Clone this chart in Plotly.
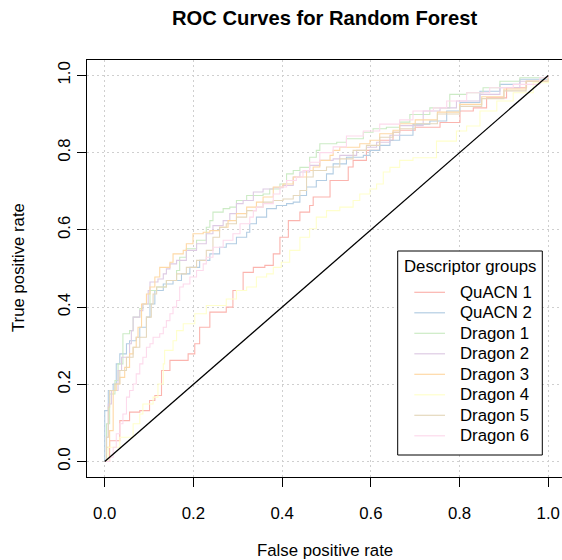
import plotly.graph_objects as go

# ---- data ----
quacn1_fpr = [0, .011, .034, .056, .079, .101, .113, .128, .147, .188, .203, .214, .237, .274, .289, .312, .335, .361, .380, .395, .414, .440, .462, .470, .508, .549, .560, .590, .620, .650, .665, .700, .756, .801, .831, .861, .906, .951, 1]
quacn1_tpr = [0, .054, .106, .128, .132, .158, .171, .236, .262, .279, .305, .348, .387, .400, .443, .490, .503, .508, .538, .581, .624, .646, .663, .685, .728, .763, .780, .806, .832, .853, .858, .866, .878, .908, .916, .942, .968, .985, 1]

quacn2_fpr = [0, 0, .008, .019, .026, .034, .049, .056, .071, .079, .094, .102, .113, .132, .154, .173, .192, .214, .237, .259, .274, .297, .320, .327, .342, .365, .387, .410, .425, .440, .455, .477, .500, .515, .545, .583, .598, .620, .643, .665, .695, .733, .771, .801, .846, .891, .936, 1]
quacn2_tpr = [0, .132, .184, .201, .253, .279, .305, .313, .322, .348, .374, .408, .443, .460, .469, .486, .503, .521, .538, .555, .564, .581, .594, .616, .633, .655, .663, .668, .672, .689, .711, .728, .745, .771, .788, .793, .806, .819, .832, .845, .874, .882, .908, .930, .959, .977, .990, 1]

dragon1_fpr = [0, .004, .011, .023, .030, .041, .041, .056, .064, .079, .086, .102, .117, .139, .162, .169, .184, .207, .229, .237, .244, .267, .282, .297, .320, .357, .372, .395, .410, .425, .440, .462, .477, .485, .523, .545, .583, .605, .635, .665, .688, .733, .778, .816, .853, .891, .936, 1]
dragon1_tpr = [0, .098, .175, .210, .253, .296, .331, .339, .374, .396, .408, .443, .452, .469, .495, .529, .551, .573, .607, .624, .646, .655, .659, .676, .689, .693, .706, .719, .745, .754, .762, .788, .806, .823, .827, .836, .853, .862, .866, .879, .899, .916, .951, .955, .968, .985, .994, 1]

dragon2_fpr = [0, .004, .008, .015, .030, .038, .056, .060, .064, .079, .086, .098, .102, .120, .132, .139, .147, .162, .184, .207, .229, .244, .267, .282, .297, .312, .335, .357, .380, .402, .425, .440, .462, .485, .515, .530, .568, .590, .613, .643, .665, .718, .756, .793, .846, .891, .936, 1]
dragon2_tpr = [0, .063, .149, .184, .236, .270, .305, .339, .374, .391, .408, .443, .465, .473, .486, .499, .512, .521, .547, .564, .590, .611, .624, .642, .668, .676, .698, .706, .709, .715, .737, .750, .767, .780, .784, .793, .806, .814, .827, .845, .870, .908, .916, .934, .951, .968, .985, 1]

dragon3_fpr = [0, .004, .011, .019, .026, .034, .045, .056, .064, .071, .075, .083, .094, .102, .113, .124, .147, .154, .177, .184, .199, .222, .237, .259, .278, .297, .320, .342, .357, .380, .402, .425, .455, .470, .485, .508, .515, .530, .575, .598, .620, .650, .665, .70, .75, .80, .85, .90, .95, 1]
dragon3_tpr = [0, .037, .080, .184, .201, .218, .244, .279, .296, .322, .348, .408, .434, .452, .478, .503, .516, .538, .547, .564, .590, .594, .598, .607, .624, .642, .659, .672, .685, .711, .719, .737, .754, .763, .780, .793, .806, .814, .823, .832, .849, .858, .875, .885, .905, .925, .945, .965, .985, 1]

dragon4_fpr = [0, .008, .034, .064, .079, .086, .109, .120, .132, .135, .154, .162, .177, .192, .203, .229, .274, .297, .320, .342, .365, .380, .398, .417, .440, .462, .477, .500, .530, .560, .575, .598, .613, .628, .643, .665, .695, .748, .793, .816, .846, .884, .921, .966, 1]
dragon4_tpr = [0, .037, .063, .098, .123, .149, .167, .201, .253, .288, .313, .339, .357, .357, .383, .404, .421, .443, .452, .478, .486, .503, .516, .547, .581, .603, .633, .650, .659, .676, .693, .706, .719, .750, .762, .780, .787, .830, .856, .869, .908, .934, .955, .981, 1]

dragon5_fpr = [0, .004, .008, .011, .023, .034, .049, .064, .079, .094, .105, .109, .117, .139, .162, .184, .207, .229, .244, .259, .274, .297, .320, .342, .357, .380, .402, .425, .440, .455, .470, .500, .530, .560, .590, .620, .650, .665, .70, .75, .80, .85, .90, .95, 1]
dragon5_tpr = [0, .063, .141, .184, .201, .236, .270, .296, .322, .374, .408, .434, .452, .469, .486, .503, .521, .547, .581, .607, .616, .633, .650, .659, .672, .676, .680, .689, .702, .737, .754, .763, .784, .806, .819, .840, .853, .862, .875, .900, .920, .940, .960, .985, 1]

dragon6_fpr = [0, .011, .019, .026, .034, .041, .049, .056, .064, .071, .079, .086, .094, .102, .109, .124, .132, .139, .147, .154, .162, .169, .177, .192, .207, .222, .229, .244, .267, .289, .305, .327, .335, .342, .357, .380, .395, .410, .432, .447, .462, .485, .515, .545, .583, .620, .665, .695, .741, .771, .816, .868, .921, .981, 1]
dragon6_tpr = [0, .011, .037, .072, .098, .123, .167, .184, .201, .227, .253, .270, .296, .305, .322, .331, .348, .365, .383, .400, .417, .452, .460, .478, .495, .512, .529, .555, .573, .590, .616, .633, .650, .659, .668, .693, .711, .728, .737, .754, .775, .800, .815, .843, .856, .874, .885, .908, .916, .934, .955, .968, .977, .994, 1]

group_names = ["QuACN 1", "QuACN 2", "Dragon 1", "Dragon 2", "Dragon 3", "Dragon 4", "Dragon 5", "Dragon 6"]
group_fpr = [quacn1_fpr, quacn2_fpr, dragon1_fpr, dragon2_fpr, dragon3_fpr, dragon4_fpr, dragon5_fpr, dragon6_fpr]
group_tpr = [quacn1_tpr, quacn2_tpr, dragon1_tpr, dragon2_tpr, dragon3_tpr, dragon4_tpr, dragon5_tpr, dragon6_tpr]
group_colors = ["#FBB4AE", "#B3CDE3", "#CCEBC5", "#DECBE4", "#FED9A6", "#FFFFCC", "#E5D8BD", "#FDDAEC"]
legend_title = "Descriptor groups"

ticks = [0.0, 0.2, 0.4, 0.6, 0.8, 1.0]
tick_text = ["0.0", "0.2", "0.4", "0.6", "0.8", "1.0"]
diag = [0, 1]

for n, a, b in zip(group_names, group_fpr, group_tpr):
    if len(a) != len(b):
        raise ValueError(f"length mismatch {n}: {len(a)} vs {len(b)}")

FONT = "Liberation Sans, Arial, Helvetica, sans-serif"

# page geometry (pixels)
W, H = 562, 560
ML, MR, MT, MB = 87, 0, 60, 83
PW, PH = W - ML - MR, H - MT - MB


def px(x):
    return (x - ML) / PW


def py(y):
    return (H - MB - y) / PH


fig = go.Figure()
for n, a, b, c in zip(group_names, group_fpr, group_tpr, group_colors):
    fig.add_trace(go.Scatter(x=a, y=b, mode="lines", name=n, showlegend=False,
                             line=dict(color=c, width=1.1, shape="hv")))
fig.add_trace(go.Scatter(x=diag, y=diag, mode="lines", showlegend=False,
                         line=dict(color="black", width=1.3), hoverinfo="skip"))

axis_common = dict(
    tickvals=ticks, ticktext=tick_text, ticks="outside", ticklen=9,
    tickcolor="black", tickwidth=1, showline=True, linecolor="black",
    linewidth=1, showgrid=True, gridcolor="#cfcfcf", griddash="2px,3px",
    gridwidth=1, zeroline=False,
    tickfont=dict(family=FONT, size=16.8, color="black"),
)

fig.update_xaxes(range=[-0.04, 1.031], mirror=True, ticklabelstandoff=12, **axis_common)
fig.update_yaxes(range=[-0.04, 1.04], tickangle=-90, ticklabelstandoff=0, **axis_common)

# ---- legend drawn as a boxed key ----
shapes = [dict(type="rect", xref="paper", yref="paper",
               x0=px(397.7), x1=px(542.3), y0=py(455), y1=py(251),
               line=dict(color="black", width=1), fillcolor="white", layer="above")]
annotations = [dict(text=legend_title, xref="paper", yref="paper",
                    x=px(401.5), y=py(266.5), xanchor="left", yanchor="middle",
                    showarrow=False, font=dict(family=FONT, size=16.8, color="black"))]
for i, (n, c) in enumerate(zip(group_names, group_colors)):
    yc = 292.3 + i * 20.5
    shapes.append(dict(type="line", xref="paper", yref="paper",
                       x0=px(414.3), x1=px(445), y0=py(yc), y1=py(yc),
                       line=dict(color=c, width=1.2), layer="above"))
    annotations.append(dict(text=n, xref="paper", yref="paper",
                            x=px(457.5), y=py(yc), xanchor="left", yanchor="middle",
                            showarrow=False, font=dict(family=FONT, size=16.8, color="black")))

annotations += [
    dict(text="<b>ROC Curves for Random Forest</b>", xref="paper", yref="paper",
         x=0.5, y=py(18.5), xanchor="center", yanchor="middle", showarrow=False,
         font=dict(family=FONT, size=20.2, color="black")),
    dict(text="False positive rate", xref="paper", yref="paper",
         x=0.5, y=py(550.5), xanchor="center", yanchor="middle", showarrow=False,
         font=dict(family=FONT, size=16.8, color="black")),
    dict(text="True positive rate", xref="paper", yref="paper",
         x=px(18), y=0.501, xanchor="center", yanchor="middle", showarrow=False,
         textangle=-90, font=dict(family=FONT, size=16.8, color="black")),
]

fig.update_layout(
    width=W, height=H,
    margin=dict(l=ML, r=MR, t=MT, b=MB),
    paper_bgcolor="white", plot_bgcolor="white",
    font=dict(family=FONT, size=16.8, color="black"),
    showlegend=False,
    shapes=shapes,
    annotations=annotations,
)

fig.write_html("out.html")
